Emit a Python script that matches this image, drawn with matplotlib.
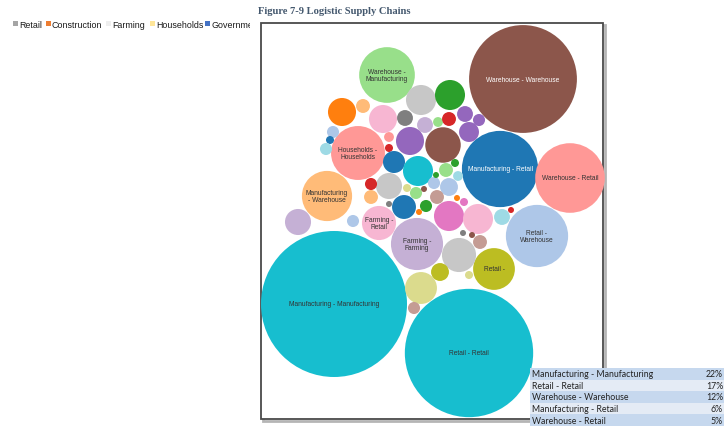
import matplotlib
matplotlib.use("Agg")
import numpy as np
import matplotlib.pyplot as plt
from matplotlib.patches import Circle, Rectangle

# bubble shares (% of all flows); bubble area is proportional to share
share = [22.0, 17.0, 12.0, 6.0, 5.0, 3.2, 3.0, 2.6, 4.0, 1.8, 2.8, 1.2,
         0.93, 0.93, 0.81, 0.2, 0.81, 0.26, 0.26, 0.1, 0.2, 0.26, 0.15, 0.41,
         0.81, 1.3, 0.1, 0.066, 0.15, 0.066, 0.15, 0.5, 0.93, 0.2, 0.066, 0.1,
         0.7, 0.15, 0.2, 0.15, 0.33, 0.037, 0.59, 0.7, 0.93, 0.93, 0.26, 0.037,
         0.037, 0.2, 0.066, 0.2, 0.15, 0.037, 0.15, 0.066, 0.037, 0.15, 0.037,
         0.26, 0.037, 1.2, 0.33, 0.066, 1.05, 0.15, 0.037, 0.037]
labels = ["Manufacturing - Manufacturing", "Retail - Retail", "Warehouse - Warehouse",
          "Manufacturing - Retail", "Warehouse - Retail", "Warehouse -\nManufacturing",
          "Households -\nHouseholds", "Manufacturing\n- Warehouse", "Retail -\nWarehouse",
          "Retail -", "Farming -\nFarming", "Farming -\nRetail"]
colors = ["#17becf", "#17becf", "#8c564b", "#1f77b4", "#ff9896", "#98df8a",
          "#ff9896", "#ffbb78", "#aec7e8", "#bcbd22", "#c5b0d5", "#f7b6d2",
          "#c7c7c7", "#2ca02c", "#ff7f0e", "#ffbb78", "#f7b6d2", "#7f7f7f",
          "#c5b0d5", "#98df8a", "#d62728", "#9467bd", "#9467bd", "#9467bd",
          "#9467bd", "#8c564b", "#ff9896", "#d62728", "#aec7e8", "#1f77b4",
          "#9edae5", "#1f77b4", "#17becf", "#98df8a", "#2ca02c", "#9edae5",
          "#c7c7c7", "#d62728", "#ffbb78", "#aec7e8", "#aec7e8", "#2ca02c",
          "#1f77b4", "#c5b0d5", "#e377c2", "#f7b6d2", "#9edae5", "#d62728",
          "#7f7f7f", "#c49c94", "#e377c2", "#c49c94", "#98df8a", "#8c564b",
          "#2ca02c", "#dbdb8d", "#ff7f0e", "#aec7e8", "#8c564b", "#bcbd22",
          "#dbdb8d", "#c7c7c7", "#bcbd22", "#dbdb8d", "#dbdb8d", "#c49c94",
          "#7f7f7f", "#ff7f0e"]

# packed layout (centre of each bubble, chart pixels)
cx = [334, 469, 523, 500, 570, 387, 358, 327, 537, 494, 417, 379,
      421, 450, 342, 363, 383, 405, 425, 438, 449, 465, 479, 469,
      410, 443, 389, 389, 333, 330, 326, 394, 418, 446, 455, 458,
      389, 371, 371, 434, 449, 436, 404, 298, 449, 478, 502, 511,
      389, 437, 464, 480, 416, 424, 426, 407, 419, 353, 472, 440,
      469, 459, 440, 469, 421, 414, 463, 457]
cy = [305, 354, 80, 170, 179, 76, 154, 197, 237, 270, 245, 224,
      101, 96, 113, 107, 120, 119, 126, 123, 120, 115, 121, 133,
      142, 146, 138, 149, 133, 141, 150, 163, 172, 171, 164, 177,
      187, 185, 198, 184, 188, 176, 208, 223, 217, 220, 218, 211,
      205, 198, 203, 243, 194, 190, 207, 189, 213, 222, 236, 273,
      276, 256, 273, 276, 289, 309, 234, 199]

table_names = ["Manufacturing - Manufacturing", "Retail - Retail", "Warehouse - Warehouse",
               "Manufacturing - Retail", "Warehouse - Retail"]
table_pct = [22, 17, 12, 6, 5]

legend_names = ["Retail", "Construction", "Farming", "Households", "Government"]
legend_colors = ["#a5a5a5", "#ed7d31", "#eeeeee", "#ffe699", "#4472c4"]

K = 73 / np.sqrt(22.0)  # pixel radius per sqrt(share)

fig = plt.figure(figsize=(7.24, 4.35), dpi=100)
ax = fig.add_axes([0, 0, 1, 1])
ax.set_xlim(0, 724)
ax.set_ylim(435, 0)
ax.axis("off")

# frame with a light shadow on the right and bottom
ax.add_patch(Rectangle((263, 26), 342, 396, facecolor="none", edgecolor="#b5b5b5", lw=2.0, zorder=1))
ax.add_patch(Rectangle((261, 24), 342, 396, facecolor="white", edgecolor="#4a4a4a", lw=1.3, zorder=1))

for x, y, s, c in zip(cx, cy, share, colors):
    ax.add_patch(Circle((x, y), K * np.sqrt(s), facecolor=c, edgecolor="none", zorder=2))

white_text = {"Warehouse - Warehouse", "Manufacturing - Retail"}
for i, lab in enumerate(labels):
    ax.text(cx[i], cy[i], lab, ha="center", va="center", fontsize=4.8,
            family="Liberation Sans", linespacing=1.1,
            color="white" if lab in white_text else "#333333", zorder=3)

# title
ax.text(258, 11, "Figure 7-9 Logistic Supply Chains", fontsize=7.6, fontweight="bold",
        family="Liberation Serif", color="#44586e", va="center", ha="left")

# legend strip (cut off at the page edge)
lax = fig.add_axes([0, 0, 250 / 724, 1])
lax.set_xlim(0, 250)
lax.set_ylim(435, 0)
lax.axis("off")
sq_x = [13, 46, 106, 150, 205]
tx_x = [19, 52, 112, 156, 211]
for name, col, sx, tx in zip(legend_names, legend_colors, sq_x, tx_x):
    lax.add_patch(Rectangle((sx, 22), 5, 5, facecolor=col, edgecolor="none"))
    lax.text(tx, 25, name, fontsize=6.4, family="Liberation Sans", color="#1a1a1a",
             va="center", ha="left", clip_on=True)

# small table at the bottom right
row_top = 369
row_h = 11.6
row_cols = ["#c6d8ee", "#e4ebf5", "#c6d8ee", "#e4ebf5", "#c6d8ee"]
for i, (name, pct) in enumerate(zip(table_names, table_pct)):
    y0 = row_top + i * row_h
    ax.add_patch(Rectangle((530, y0), 200, row_h, facecolor=row_cols[i], edgecolor="none", zorder=4))
    ax.text(532, y0 + row_h / 2, name, fontsize=6.3, family="Lato", color="#222222",
            va="center", ha="left", zorder=5)
    ax.text(723, y0 + row_h / 2, f"{pct}%", fontsize=6.3, family="Lato", color="#222222",
            va="center", ha="right", zorder=5)

fig.savefig("out.png", dpi=100)
